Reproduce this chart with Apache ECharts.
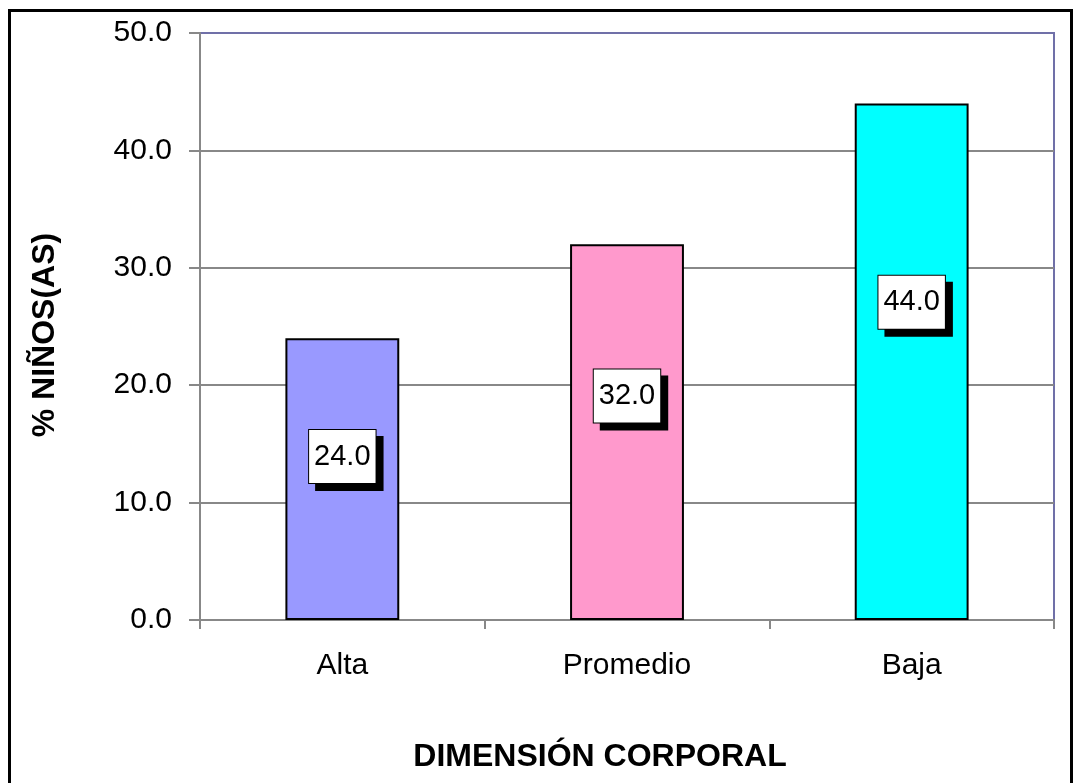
<!DOCTYPE html>
<html>
<head>
<meta charset="utf-8">
<script src="https://cdn.jsdelivr.net/npm/echarts@6/dist/echarts.min.js"></script>
<style>
html,body{margin:0;padding:0;background:#fff;overflow:hidden;}
#chart{width:1073px;height:783px;}
</style>
</head>
<body>
<div id="chart"></div>
<script>
const categories = ['Alta', 'Promedio', 'Baja'];
const values = [24.0, 32.0, 44.0];
const barColors = ['#9999FF', '#FF99CC', '#00FFFF'];
const labelY = ['42%', '40.4%', '38.5%'];
const yTicks = { min: 0, max: 50, interval: 10 };
const xTitle = 'DIMENSIÓN CORPORAL';
const yTitle = '% NIÑOS(AS)';

const FONT = '"Liberation Sans", Arial, sans-serif';
const chart = echarts.init(document.getElementById('chart'), null, { renderer: 'canvas', width: 1073, height: 783 });

const data = values.map((v, i) => ({
  value: v,
  itemStyle: { color: barColors[i] },
  label: { position: ['50%', labelY[i]] }
}));

chart.setOption({
  animation: false,
  backgroundColor: '#fff',
  graphic: [{
    type: 'rect',
    shape: { x: 9.5, y: 10.5, width: 1062, height: 900 },
    style: { fill: 'none', stroke: '#000', lineWidth: 3 },
    z: 100
  }],
  grid: {
    left: 200, right: 19, top: 33, bottom: 163,
    show: true, borderColor: '#7070a8', borderWidth: 2, backgroundColor: '#fff'
  },
  xAxis: {
    type: 'category',
    data: categories,
    name: xTitle,
    nameLocation: 'middle',
    nameGap: 121,
    nameTextStyle: { fontFamily: FONT, fontSize: 32, fontWeight: 'bold', color: '#000', padding: [0, 54, 0, 0] },
    axisLine: { show: true, lineStyle: { color: '#888', width: 2 } },
    axisTick: { show: true, alignWithLabel: false, length: 9, lineStyle: { color: '#888', width: 2 } },
    axisLabel: { fontFamily: FONT, fontSize: 30, color: '#000', margin: 31 },
    splitLine: { show: false }
  },
  yAxis: {
    type: 'value',
    min: yTicks.min, max: yTicks.max, interval: yTicks.interval,
    name: yTitle,
    nameLocation: 'middle',
    nameGap: 139,
    nameRotate: 90,
    nameTextStyle: { fontFamily: FONT, fontSize: 32, fontWeight: 'bold', color: '#000', padding: [0, 17, 0, 0] },
    axisLine: { show: true, lineStyle: { color: '#888', width: 2 } },
    axisTick: { show: true, length: 11, lineStyle: { color: '#888', width: 2 } },
    axisLabel: { fontFamily: FONT, fontSize: 30, color: '#000', margin: 28, formatter: v => v.toFixed(1) },
    splitLine: { show: true, showMaxLine: false, lineStyle: { color: '#888', width: 2 } }
  },
  series: [{
    type: 'bar',
    data: data,
    barWidth: '40%',
    itemStyle: { borderColor: '#000', borderWidth: 2 },
    label: {
      show: true,
      align: 'center',
      verticalAlign: 'middle',
      formatter: p => p.value.toFixed(1),
      fontFamily: FONT,
      fontSize: 29,
      color: '#000',
      lineHeight: 32,
      backgroundColor: '#fff',
      borderColor: '#000',
      borderWidth: 1,
      padding: [12, 5, 9, 5],
      shadowColor: '#000',
      shadowBlur: 0,
      shadowOffsetX: 7,
      shadowOffsetY: 7
    }
  }]
});
</script>
</body>
</html>
